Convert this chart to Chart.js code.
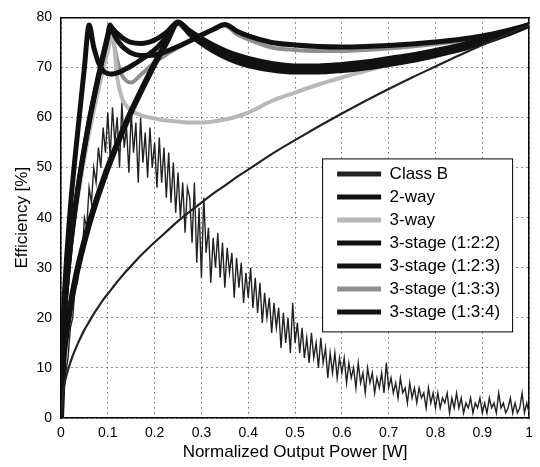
<!DOCTYPE html>
<html lang="en">

<head>
  <meta charset="UTF-8" />
  <title>Efficiency vs Normalized Output Power</title>
  <script src="https://cdn.jsdelivr.net/npm/chart.js"></script>
  <style>
    body {
      margin: 0;
      background: #fff;
    }

    #wrap {
      width: 540px;
      height: 467px;
    }
  </style>
</head>

<body>
  <div id="wrap">
    <canvas id="effChart" width="540" height="467"></canvas>
  </div>

  <script>
    // normalized output power points used by the smooth curves
    const powerGrid = [0, 0.005, 0.01, 0.02, 0.03, 0.04, 0.05, 0.06, 0.07, 0.08, 0.09, 0.1, 0.105, 0.11, 0.12, 0.13, 0.14, 0.15, 0.17, 0.2,
      0.225, 0.25, 0.275, 0.3, 0.325, 0.35, 0.375, 0.4, 0.45, 0.5, 0.55, 0.6, 0.65, 0.7, 0.75, 0.8, 0.85, 0.9, 0.95, 1];

    // efficiency [%]
    const classB = [0, 5.5, 7.9, 11.1, 13.6, 15.7, 17.6, 19.2, 20.8, 22.2, 23.6, 24.8, 25.4, 26, 27.2, 28.3, 29.4, 30.4, 32.4, 35.1,
      37.2, 39.3, 41.2, 43, 44.8, 46.4, 48.1, 49.6, 52.7, 55.5, 58.2, 60.8, 63.3, 65.7, 68, 70.2, 72.4, 74.5, 76.5, 78.5];
    const twoWay = [0, 11.2, 15.8, 22.3, 27.4, 31.6, 35.3, 38.7, 41.8, 44.7, 47.4, 50, 51.2, 52.4, 54.7, 57, 59.1, 61.2, 65.1, 70.7,
      75, 79, 76.8, 74.9, 73.4, 72.2, 71.2, 70.5, 69.6, 69.2, 69.2, 69.5, 70, 70.7, 71.5, 72.5, 73.6, 75, 76.6, 78.5];
    const threeWay = [0, 16.4, 23.2, 32.8, 40.2, 46.4, 51.9, 56.8, 61.4, 65.6, 69.6, 73.4, 75.2, 77, 68, 64, 62.3, 61.4, 60.5, 59.8,
      59.4, 59.2, 59, 59, 59.2, 59.6, 60.2, 61, 63.3, 65, 66.6, 68, 69.3, 70.6, 71.9, 73.2, 74.5, 75.8, 77, 78.3];
    const stage122 = [0, 17.1, 24.2, 34.2, 41.9, 48.4, 54.1, 59.3, 64, 68.4, 72.6, 76.5, 78.5, 77.3, 75.5, 74.3, 73.5, 72.9, 72.4, 72.5,
      73.2, 74.2, 75.3, 76.5, 77.6, 78.6, 77.3, 76.3, 75, 74.5, 74.2, 74.1, 74.2, 74.4, 74.7, 75.1, 75.6, 76.3, 77.3, 78.5];
    const stage123 = [0, 20, 29, 42, 52, 61, 70, 78.5, 74, 71, 69.3, 68.8, 68.7, 68.7, 68.9, 69.3, 69.8, 70.3, 71.5, 73.5,
      76, 79, 77, 75.3, 73.9, 72.7, 71.8, 71.1, 70.2, 69.8, 69.8, 70.1, 70.6, 71.2, 72, 72.9, 74, 75.3, 76.8, 78.5];
    const stage133 = [0, 16.8, 23.8, 33.7, 41.2, 47.6, 53.2, 58.3, 63, 67.3, 71.4, 75.3, 77.5, 76, 71.5, 68.5, 67.3, 67, 68.5, 71,
      72.6, 74, 75.3, 76.5, 77.6, 78.4, 76.7, 75.6, 74, 73.5, 73.3, 73.3, 73.5, 73.8, 74.2, 74.7, 75.3, 76, 77.1, 78.4];
    const stage134 = [0, 17, 24, 34, 41.6, 48, 53.8, 59, 63.7, 68.1, 72.2, 76.1, 78.3, 77.8, 76.8, 76, 75.4, 75, 74.8, 75.5,
      77, 79, 77.3, 75.8, 74.5, 73.4, 72.5, 71.8, 70.8, 70.3, 70.3, 70.6, 71.1, 71.8, 72.5, 73.4, 74.4, 75.6, 77, 78.5];

    // noisy signal distribution trace, sampled every 0.005 of output power
    const noiseStep = 0.005;
    const noiseTrace = [
      0, 4, 9, 12, 18, 20, 26, 27, 33, 32, 40, 38, 46, 43, 50, 47, 54, 50, 58, 53, 61,
      52, 62, 55, 60, 50, 63, 54, 58, 49, 61, 53, 59, 47, 60, 51, 57, 48, 58, 50, 55,
      46, 56, 47, 54, 44, 53, 43, 51, 41, 49, 40, 47, 37, 46,
      44, 35, 47, 31, 42, 28, 44, 33, 38, 27, 36,
      30, 37, 28, 35, 26, 34, 29, 33, 24, 32, 26, 31, 23, 29, 24,
      30, 22, 28, 21, 27, 19, 25, 20, 24, 17, 23, 18, 22, 14, 21, 15, 20, 13, 23, 15,
      19, 13, 18, 12, 16, 11, 17, 12, 15, 10, 16, 11, 14, 8, 13, 9, 13, 8, 12, 9,
      12, 7, 11, 8, 10, 6, 11, 7, 9, 5, 10, 7, 9, 5, 8, 6, 9, 5, 11, 6,
      8, 5, 7, 4, 8, 5, 6, 3, 7, 4, 6, 3, 6, 4, 5, 2, 6, 3, 5, 2,
      5, 2, 4, 3, 5, 1, 4, 2, 5, 2, 4, 1, 3, 2, 4, 1, 3, 2, 4, 1,
      3, 1, 4, 2, 3, 1, 5, 2, 3, 1, 2, 4, 1, 3, 1, 2, 5, 1, 3, 1
    ];

    const xTickLabels = [0, 0.1, 0.2, 0.3, 0.4, 0.5, 0.6, 0.7, 0.8, 0.9, 1];
    const FONT = "'Liberation Sans', Arial, sans-serif";

    const toPoints = values => powerGrid.map((p, i) => ({ x: p, y: values[i] }));

    function curve(label, values, color, width, order) {
      return {
        label: label,
        data: toPoints(values),
        borderColor: color,
        backgroundColor: color,
        borderWidth: width,
        pointRadius: 0,
        cubicInterpolationMode: 'monotone',
        order: order
      };
    }

    // draws the legend frame on top of the curves and places the legend inside the plot
    const legendBox = {
      id: 'legendBox',
      beforeDraw(chart) {
        const lg = chart.legend;
        const area = chart.chartArea;
        lg.left = area.right - 198;
        lg.top = area.top + 142;
        lg.right = lg.left + 200;
        lg.bottom = lg.top + 200;
      },
      afterDatasetsDraw(chart) {
        const ctx = chart.ctx;
        const lg = chart.legend;
        const bx = lg.left - 9, by = lg.top - 1, bw = 190, bh = 173;
        ctx.save();
        ctx.fillStyle = '#fff';
        ctx.fillRect(bx, by, bw, bh);
        ctx.strokeStyle = '#000';
        ctx.lineWidth = 1;
        ctx.strokeRect(bx + 0.5, by + 0.5, bw, bh);
        ctx.restore();
        lg.draw();
      }
    };

    const ctx = document.getElementById('effChart').getContext('2d');
    new Chart(ctx, {
      type: 'line',
      data: {
        datasets: [
          curve('Class B', classB, '#222', 2.2, 0),
          curve('2-way', twoWay, '#111', 6, 1),
          curve('3-way', threeWay, '#b8b8b8', 4, 2),
          curve('3-stage (1:2:2)', stage122, '#111', 5, 1),
          curve('3-stage (1:2:3)', stage123, '#111', 5, 1),
          curve('3-stage (1:3:3)', stage133, '#8f8f8f', 4, 2),
          curve('3-stage (1:3:4)', stage134, '#111', 5, 1),
          {
            label: 'PDF',
            data: noiseTrace.map((y, i) => ({ x: i * noiseStep, y: y })),
            borderColor: '#222',
            borderWidth: 1.4,
            pointRadius: 0,
            tension: 0,
            order: 3
          }
        ]
      },
      options: {
        responsive: false,
        animation: false,
        layout: { padding: { left: 0, right: 10, top: 11, bottom: 0 } },
        plugins: {
          tooltip: { enabled: false },
          legend: {
            position: 'chartArea',
            align: 'start',
            labels: {
              usePointStyle: true,
              pointStyle: 'line',
              pointStyleWidth: 44,
              padding: 6,
              color: '#000',
              font: { family: FONT, size: 17 },
              filter: item => item.text !== 'PDF',
              sort: (a, b) => a.datasetIndex - b.datasetIndex,
              generateLabels: chart => Chart.defaults.plugins.legend.labels.generateLabels(chart)
                .map(item => Object.assign(item, { lineWidth: 5 }))
            }
          }
        },
        scales: {
          x: {
            type: 'linear',
            position: 'bottom',
            min: 0,
            max: 1,
            afterFit: s => { s.height = 49; },
            afterBuildTicks: s => { s.ticks = xTickLabels.map(v => ({ value: v })); },
            ticks: {
              padding: 7,
              color: '#000',
              maxRotation: 0,
              font: { family: FONT, size: 14 },
              callback: v => String(+v.toFixed(1))
            },
            grid: { color: '#222', lineWidth: 1, drawTicks: false },
            border: { display: true, color: '#000', width: 1.5, dash: [1, 4] },
            title: {
              display: true,
              text: 'Normalized Output Power [W]',
              color: '#000',
              font: { family: FONT, size: 17 },
              padding: { top: 0, bottom: 4 }
            }
          },
          y: {
            min: 0,
            max: 80,
            afterFit: s => { s.width = 61; },
            ticks: {
              stepSize: 10,
              padding: 9,
              color: '#000',
              font: { family: FONT, size: 14 }
            },
            grid: { color: '#222', lineWidth: 1, drawTicks: false },
            border: { display: true, color: '#000', width: 1.5, dash: [1, 4] },
            title: {
              display: true,
              text: 'Efficiency [%]',
              color: '#000',
              font: { family: FONT, size: 17 },
              padding: { top: 12, bottom: 0 }
            }
          },
          x2: {
            type: 'linear',
            position: 'top',
            min: 0,
            max: 1,
            afterFit: s => { s.height = 0; },
            ticks: { display: false },
            grid: { drawOnChartArea: false, drawTicks: false },
            border: { display: true, color: '#000', width: 1.5 }
          },
          y2: {
            type: 'linear',
            position: 'right',
            min: 0,
            max: 80,
            afterFit: s => { s.width = 0; },
            ticks: { display: false },
            grid: { drawOnChartArea: false, drawTicks: false },
            border: { display: true, color: '#000', width: 1.5 }
          }
        }
      },
      plugins: [legendBox]
    });
  </script>
</body>

</html>
